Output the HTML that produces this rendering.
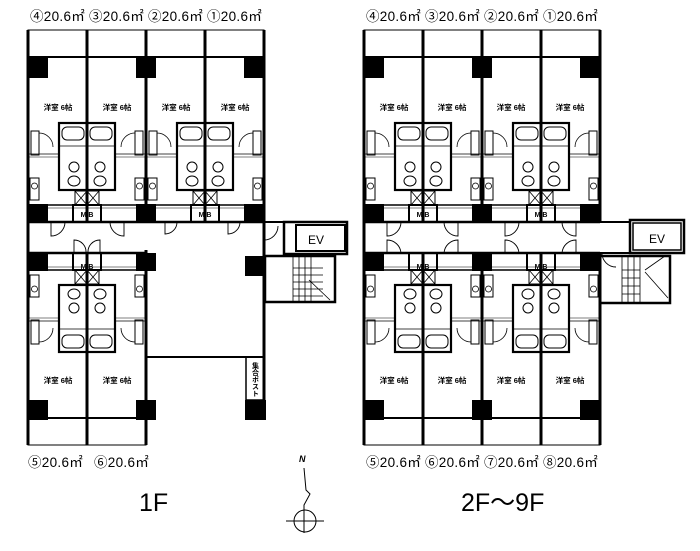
<!DOCTYPE html>
<html><head><meta charset="utf-8"><style>
body{margin:0;background:#fff}
svg{display:block}
text{font-family:"Liberation Sans","Noto Sans CJK JP",sans-serif;fill:#000}
.t{font-size:13.5px;letter-spacing:0.3px}
.r{font-size:7.5px;font-weight:bold}
.m{font-size:7px;font-weight:bold}
</style></head><body>
<svg width="700" height="551" viewBox="0 0 700 551" xmlns="http://www.w3.org/2000/svg">
<defs>
<g id="u" fill="none" stroke="#000">
  <rect x="0" y="0" width="59" height="27" stroke-width="1"/>
  <line x1="0" y1="0" x2="0" y2="192" stroke-width="3"/>
  <line x1="59" y1="0" x2="59" y2="192" stroke-width="3"/>
  <line x1="0" y1="27" x2="59" y2="27" stroke-width="2"/>
  <rect x="31" y="93" width="28" height="67" stroke-width="2.2"/>
  <rect x="34" y="97" width="22" height="13" rx="5" stroke-width="1"/>
  <line x1="31" y1="116" x2="59" y2="116" stroke-width="0.8"/>
  <circle cx="46" cy="137" r="5" stroke-width="1"/>
  <ellipse cx="46" cy="151" rx="6" ry="5" stroke-width="1"/>
  <rect x="3" y="101" width="8" height="24" stroke-width="1"/>
  <path d="M11 103 A14 14 0 0 1 25 117" stroke-width="0.8"/>
  <line x1="0" y1="124" x2="31" y2="124" stroke-width="0.8"/>
  <line x1="0" y1="127" x2="31" y2="127" stroke-width="0.6"/>
  <rect x="2" y="148" width="9" height="22" stroke-width="1"/>
  <circle cx="6.5" cy="156" r="3" stroke-width="0.8"/>
  <rect x="47" y="161" width="12" height="14" stroke-width="1"/>
  <path d="M47 161 L59 175 M59 161 L47 175" stroke-width="0.8"/>
  <line x1="0" y1="175" x2="59" y2="175" stroke-width="1.5"/>
  <line x1="0" y1="178" x2="59" y2="178" stroke-width="0.6"/>
  <rect x="45" y="175" width="14" height="17" stroke-width="2"/>
  <line x1="0" y1="192" x2="59" y2="192" stroke-width="2.5"/>
</g>
</defs>

<use href="#u" transform="translate(28,30)"/>
<use href="#u" transform="translate(146,30) scale(-1,1)"/>
<use href="#u" transform="translate(146,30)"/>
<use href="#u" transform="translate(264,30) scale(-1,1)"/>
<use href="#u" transform="translate(28,445) scale(1,-1)"/>
<use href="#u" transform="translate(146,445) scale(-1,-1)"/>
<use href="#u" transform="translate(364,30)"/>
<use href="#u" transform="translate(482,30) scale(-1,1)"/>
<use href="#u" transform="translate(482,30)"/>
<use href="#u" transform="translate(600,30) scale(-1,1)"/>
<use href="#u" transform="translate(364,445) scale(1,-1)"/>
<use href="#u" transform="translate(482,445) scale(-1,-1)"/>
<use href="#u" transform="translate(482,445) scale(1,-1)"/>
<use href="#u" transform="translate(600,445) scale(-1,-1)"/>

<g fill="#000">
<rect x="28" y="58" width="20" height="20"/><rect x="136" y="58" width="20" height="20"/><rect x="244" y="58" width="20" height="20"/>
<rect x="28" y="204" width="20" height="18"/><rect x="136" y="204" width="20" height="18"/><rect x="244" y="204" width="20" height="18"/>
<rect x="28" y="253" width="20" height="18"/><rect x="136" y="253" width="20" height="18"/>
<rect x="28" y="400" width="20" height="20"/><rect x="136" y="400" width="20" height="20"/>
<rect x="245" y="256" width="20" height="20"/><rect x="245" y="400" width="21" height="20"/>
<rect x="364" y="58" width="20" height="20"/><rect x="472" y="58" width="20" height="20"/><rect x="580" y="58" width="20" height="20"/>
<rect x="364" y="204" width="20" height="18"/><rect x="472" y="204" width="20" height="18"/><rect x="580" y="204" width="20" height="18"/>
<rect x="364" y="253" width="20" height="18"/><rect x="472" y="253" width="20" height="18"/><rect x="580" y="253" width="20" height="18"/>
<rect x="364" y="400" width="20" height="20"/><rect x="472" y="400" width="20" height="20"/><rect x="580" y="400" width="20" height="20"/>
</g>

<g fill="none" stroke="#000">
<line x1="28" y1="222" x2="28" y2="253" stroke-width="3"/>
<line x1="264" y1="57" x2="264" y2="420" stroke-width="3"/>
<line x1="146" y1="357" x2="264" y2="357" stroke-width="2"/>
<line x1="146" y1="250" x2="146" y2="445" stroke-width="3"/>
<line x1="264" y1="222" x2="284" y2="222" stroke-width="2"/>
<rect x="284" y="222" width="63" height="32" stroke-width="2.5"/>
<rect x="296" y="225" width="49" height="26" stroke-width="2"/>
<rect x="265" y="256" width="70" height="46" stroke-width="2.5"/>
<path d="M293 256 V302 M299 256 V302 M305 256 V302 M311 256 V302 M293 268 H323 M293 275 H323 M293 282 H323 M293 289 H323 M293 296 H323 M309 280 L330 300" stroke-width="0.8"/>
<rect x="246" y="357" width="18" height="43" stroke-width="1.5"/>
<path d="M51 222 V236 A14 14 0 0 0 65 222 M124 222 V236 A14 14 0 0 1 110 222 M74 253 V240 A12 12 0 0 1 86 253 M100 253 V240 A12 12 0 0 0 88 253 M165 222 V234 A12 12 0 0 0 177 222 M228 222 V234 A12 12 0 0 0 240 222 M264 240 A14 14 0 0 0 278 226" stroke-width="0.9"/>
<line x1="364" y1="222" x2="364" y2="253" stroke-width="3"/>
<line x1="600" y1="222" x2="630" y2="222" stroke-width="2"/>
<line x1="600" y1="253" x2="630" y2="253" stroke-width="2"/>
<rect x="630" y="220" width="54" height="33" stroke-width="2.5"/>
<rect x="633" y="223" width="48" height="27" stroke-width="1.5"/>
<rect x="600" y="256" width="70" height="47" stroke-width="2.5"/>
<path d="M622 256 V303 M628 256 V303 M634 256 V303 M640 256 V303 M622 270 H640 M622 278 H640 M622 286 H640 M622 294 H640 M645 270 L665 256 M645 272 L668 298" stroke-width="0.8"/>
<path d="M387 222 V236 A14 14 0 0 0 401 222 M458 222 V236 A14 14 0 0 1 444 222 M387 253 V240 A14 14 0 0 1 401 253 M458 253 V240 A14 14 0 0 0 444 253 M505 222 V236 A14 14 0 0 0 519 222 M576 222 V236 A14 14 0 0 1 562 222 M505 253 V240 A14 14 0 0 1 519 253 M576 253 V240 A14 14 0 0 0 562 253 M602 253 A14 14 0 0 0 616 267" stroke-width="0.9"/>
<path d="M304 468 L306 490 L310 494 L304 505 V533" stroke-width="1"/>
<circle cx="305" cy="521" r="11" stroke-width="1"/>
<line x1="286" y1="521" x2="324" y2="521" stroke-width="1"/>
</g>

<g class="t">
<text x="30" y="21">④20.6㎡</text><text x="89" y="21">③20.6㎡</text><text x="148" y="21">②20.6㎡</text><text x="207" y="21">①20.6㎡</text>
<text x="366" y="21">④20.6㎡</text><text x="425" y="21">③20.6㎡</text><text x="484" y="21">②20.6㎡</text><text x="543" y="21">①20.6㎡</text>
<text x="28" y="467">⑤20.6㎡</text><text x="94" y="467">⑥20.6㎡</text>
<text x="366" y="467">⑤20.6㎡</text><text x="425" y="467">⑥20.6㎡</text><text x="484" y="467">⑦20.6㎡</text><text x="543" y="467">⑧20.6㎡</text>
</g>
<g class="r" text-anchor="middle">
<text x="58" y="110">洋室 6帖</text><text x="117" y="110">洋室 6帖</text><text x="176" y="110">洋室 6帖</text><text x="235" y="110">洋室 6帖</text>
<text x="394" y="110">洋室 6帖</text><text x="452" y="110">洋室 6帖</text><text x="511" y="110">洋室 6帖</text><text x="570" y="110">洋室 6帖</text>
<text x="58" y="383">洋室 6帖</text><text x="117" y="383">洋室 6帖</text>
<text x="394" y="383">洋室 6帖</text><text x="452" y="383">洋室 6帖</text><text x="511" y="383">洋室 6帖</text><text x="570" y="383">洋室 6帖</text>
</g>
<g class="m" text-anchor="middle">
<text x="87" y="217">M B</text><text x="205" y="217">M B</text><text x="87" y="269">M B</text>
<text x="423" y="217">M B</text><text x="541" y="217">M B</text><text x="423" y="269">M B</text><text x="541" y="269">M B</text>
</g>
<text x="255" y="362" style="font-size:7px;font-weight:bold;writing-mode:vertical-rl">集合ポスト</text>
<text x="316" y="244" style="font-size:12px" text-anchor="middle">EV</text>
<text x="657" y="243" style="font-size:12px" text-anchor="middle">EV</text>
<text x="299" y="462" style="font-size:9px;font-style:italic;font-weight:bold">N</text>
<text x="139" y="511" style="font-size:25px">1F</text>
<text x="461" y="511" style="font-size:25px">2F～9F</text>
</svg>
</body></html>
